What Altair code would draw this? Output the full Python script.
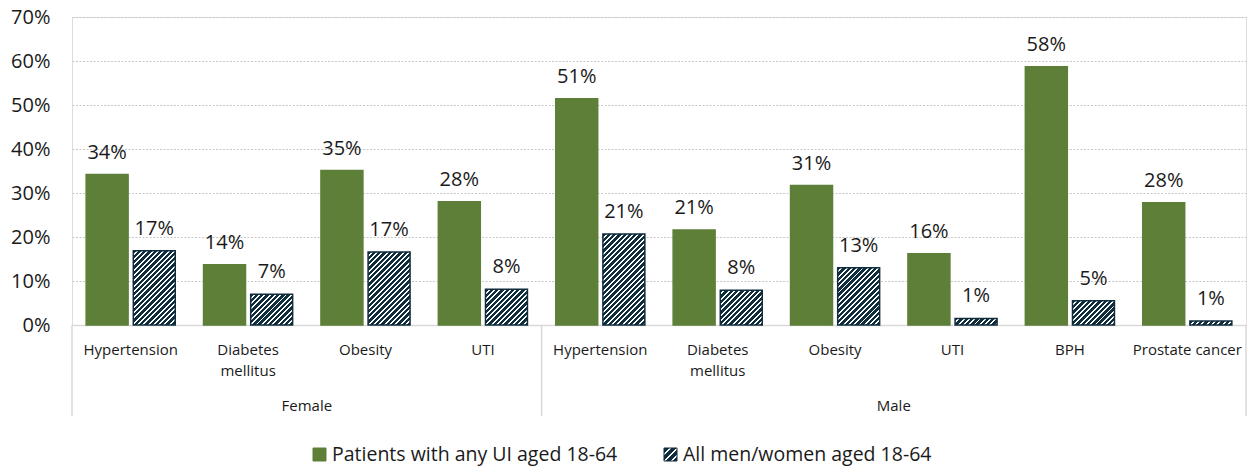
import math
import altair as alt

# ---------------- data ----------------
groups = ["Female"] * 4 + ["Male"] * 6
categories = ["Hypertension", "Diabetes mellitus", "Obesity", "UTI",
              "Hypertension", "Diabetes mellitus", "Obesity", "UTI", "BPH", "Prostate cancer"]
ui_values = [34.2, 13.7, 35.1, 28.0, 51.4, 21.6, 31.7, 16.2, 58.7, 27.8]
all_values = [16.9, 7.0, 16.6, 8.1, 20.7, 7.9, 13.0, 1.5, 5.5, 0.9]
ui_labels = ["34%", "14%", "35%", "28%", "51%", "21%", "31%", "16%", "58%", "28%"]
all_labels = ["17%", "7%", "17%", "8%", "21%", "8%", "13%", "1%", "5%", "1%"]
series_names = ["Patients with any UI aged 18-64", "All men/women aged 18-64"]
group_names = ["Female", "Male"]
y_ticks = [0, 10, 20, 30, 40, 50, 60, 70]
wrapped = {"Diabetes mellitus": "Diabetes\nmellitus"}

# ---------------- style ----------------
GREEN = "#5E7F38"
NAVY = "#0F2D3C"
GRID = "#C8C8C8"
AXIS = "#D9D9D9"
TEXT = "#1A1A1A"
FONT = "Open Sans"

W, H = 1174, 308
YMAX = 70
STEP = W / len(categories)
P_INNER, P_OUTER = 0.11, 0.30
offset_step = STEP / (2 - P_INNER + 2 * P_OUTER)
BAR_W = offset_step * (1 - P_INNER)


def hatch(w, h, period=5.3, dark=0.63):
    """Diagonal '/' stripes as a linear gradient in bounding-box units."""
    w = max(w, 1.0)
    h = max(h, 1.0)
    total = w + h
    k = total / (w * w + h * h)
    stops = []
    n = math.ceil(total / period)
    for i in range(n):
        a = min(i * period / total, 1)
        b = min((i + dark) * period / total, 1)
        c = min((i + 1) * period / total, 1)
        stops += [{"offset": a, "color": NAVY}, {"offset": b, "color": NAVY},
                  {"offset": b, "color": "#FFFFFF"}, {"offset": c, "color": "#FFFFFF"}]
    return {"gradient": "linear", "x1": 0, "y1": 0, "x2": w * k, "y2": h * k, "stops": stops}


keys = [f"{i:02d}|" + wrapped.get(c, c) for i, c in enumerate(categories)]

rows = []
for i, key in enumerate(keys):
    rows.append({"key": key, "series": series_names[0], "value": ui_values[i],
                 "label": ui_labels[i], "fill": GREEN, "stroke": GREEN})
    rows.append({"key": key, "series": series_names[1], "value": all_values[i],
                 "label": all_labels[i],
                 "fill": hatch(BAR_W, all_values[i] / YMAX * H), "stroke": NAVY})

x_enc = alt.X(
    "key:N", sort=keys,
    scale=alt.Scale(paddingInner=0, paddingOuter=0),
    axis=alt.Axis(title=None, labelExpr="split(slice(datum.label, 3), '\\n')",
                  labelFontSize=15, labelColor=TEXT, labelFont=FONT, labelPadding=17,
                  labelLineHeight=21, ticks=False, tickSize=0, domainColor=AXIS,
                  domainWidth=1.5, grid=False, labelAngle=0, labelLimit=300,
                  labelOverlap=False),
)
y_enc = alt.Y(
    "value:Q", scale=alt.Scale(domain=[0, YMAX], nice=False, zero=True),
    axis=alt.Axis(values=y_ticks, labelExpr="datum.value + '%'", title=None, domain=False,
                  ticks=False, tickSize=0, labelPadding=22, labelFontSize=20,
                  labelColor=TEXT, labelFont=FONT, gridColor=GRID, gridDash=[2, 1.5],
                  gridWidth=1),
)
xoff = alt.XOffset("series:N", sort=series_names,
                   scale=alt.Scale(paddingInner=P_INNER, paddingOuter=P_OUTER))

base = alt.Chart(alt.Data(values=rows))

bars = base.mark_bar(strokeWidth=1.5).encode(
    x=x_enc, xOffset=xoff, y=y_enc,
    fill=alt.Fill("fill:N", scale=None),
    stroke=alt.Stroke("stroke:N", scale=None),
)

labels = base.mark_text(dy=-16, baseline="alphabetic", fontSize=20, color=TEXT, font=FONT).encode(
    x=alt.X("key:N", sort=keys), xOffset=xoff, y=alt.Y("value:Q"), text=alt.Text("label:N"),
)

# group separators and group labels
layers = [bars, labels]
start = 0
bounds = []
for g in group_names:
    n = groups.count(g)
    bounds.append({"key": keys[start]})
    mid = start + n // 2
    bp = 0 if n % 2 == 0 else 0.5
    layers.append(
        alt.Chart(alt.Data(values=[{"key": keys[mid], "group": g}]))
        .mark_text(fontSize=15, color=TEXT, font=FONT, baseline="alphabetic")
        .encode(x=alt.X("key:N", sort=keys, bandPosition=bp), y=alt.value(H + 86),
                text=alt.Text("group:N"))
    )
    start += n

layers.append(
    alt.Chart(alt.Data(values=bounds)).mark_rule(color=AXIS, strokeWidth=1.5)
    .encode(x=alt.X("key:N", sort=keys, bandPosition=0), y=alt.value(H), y2=alt.value(H + 91))
)
layers.append(
    alt.Chart(alt.Data(values=[{"key": keys[-1]}])).mark_rule(color=AXIS, strokeWidth=1.5)
    .encode(x=alt.X("key:N", sort=keys, bandPosition=1), y=alt.value(H), y2=alt.value(H + 91))
)

# custom legend
LEG_Y = 437.5
legend_items = [
    (series_names[0], 241, GREEN, GREEN),
    (series_names[1], 592, hatch(13, 13, period=7.0, dark=0.72), NAVY),
]
for name, lx, fill, stroke in legend_items:
    layers.append(
        alt.Chart(alt.Data(values=[{"name": name}])).mark_rect(
            fill=fill, stroke=stroke, strokeWidth=1)
        .encode(x=alt.value(lx), x2=alt.value(lx + 13), y=alt.value(LEG_Y - 6.5),
                y2=alt.value(LEG_Y + 6.5))
    )
    layers.append(
        alt.Chart(alt.Data(values=[{"name": name}])).mark_text(
            fontSize=19.5, color=TEXT, font=FONT, align="left", baseline="middle")
        .encode(x=alt.value(lx + 19), y=alt.value(LEG_Y), text=alt.Text("name:N"))
    )

chart = (
    alt.layer(*layers)
    .properties(width=W, height=H, autosize=alt.AutoSizeParams(type="none"),
                padding={"left": 72, "top": 17, "right": 3, "bottom": 146})
    .configure_view(stroke=None)
    .configure(font=FONT)
)

chart.save("out.html", embed_options={"renderer": "svg", "actions": False})
